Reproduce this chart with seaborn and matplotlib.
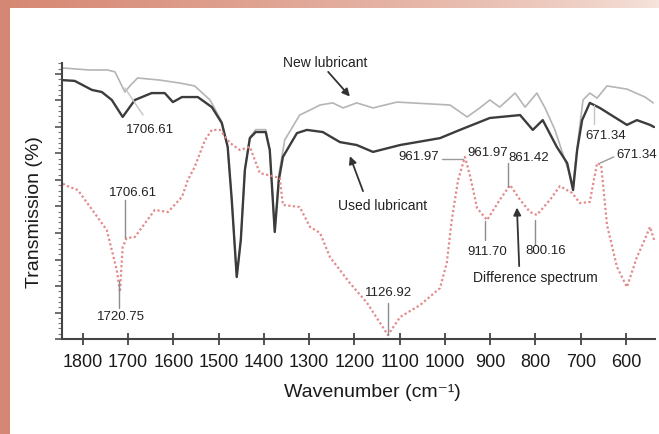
import numpy as np
import matplotlib
matplotlib.use("Agg")
import matplotlib.pyplot as plt
from matplotlib.ticker import MultipleLocator
from matplotlib.patches import Rectangle
import seaborn as sns

# ---- data (transmission in arbitrary %, 0 = axis bottom) ----
used_wn = [1846, 1818, 1780, 1758, 1736, 1712, 1685, 1648, 1619, 1601, 1581, 1546,
           1515, 1493, 1480, 1471, 1460, 1451, 1442, 1431, 1418, 1396, 1387, 1376,
           1367, 1358, 1327, 1305, 1270, 1232, 1195, 1159, 1099, 1011, 967, 901,
           834, 806, 784, 753, 730, 717, 708, 697, 680, 658, 598, 576, 547, 538]
used_t = [97.7, 97.4, 94.0, 93.2, 90.2, 83.8, 90.2, 92.8, 92.8, 89.4, 91.3, 91.3,
          87.5, 81.5, 72.5, 52.5, 23.4, 37.4, 63.8, 75.8, 78.1, 78.1, 71.3, 40.4,
          60.0, 68.7, 77.7, 78.9, 78.1, 74.3, 73.2, 70.6, 73.2, 75.8, 78.9, 83.4,
          84.5, 78.9, 82.6, 72.5, 66.4, 56.2, 71.3, 82.6, 89.1, 87.2, 80.8, 82.6, 80.8, 80.0]

new_wn = [1846, 1785, 1745, 1729, 1718, 1707, 1696, 1679, 1630, 1586, 1553, 1519,
          1493, 1480, 1471, 1460, 1451, 1442, 1431, 1418, 1396, 1387, 1376, 1367,
          1354, 1321, 1298, 1276, 1248, 1225, 1195, 1159, 1106, 989, 967, 951,
          923, 901, 879, 845, 823, 797, 779, 757, 735, 717, 706, 695, 680, 664,
          642, 598, 558, 540]
new_t = [102.3, 101.5, 101.5, 100.8, 97.0, 93.2, 95.5, 98.5, 97.7, 96.6, 95.5, 90.2,
         82.0, 72.5, 52.5, 23.4, 37.4, 63.8, 76.2, 79.0, 79.0, 71.3, 40.4, 62.0,
         75.1, 84.5, 86.4, 88.3, 89.1, 87.2, 89.1, 87.2, 89.4, 88.3, 85.7, 83.8,
         87.2, 90.2, 87.5, 92.8, 87.5, 92.8, 87.2, 78.9, 67.5, 58.1, 75.1, 90.2,
         92.8, 90.9, 95.5, 94.3, 91.3, 89.1]

diff_wn = [1846, 1840, 1811, 1774, 1747, 1725, 1718, 1712, 1703, 1685, 1641, 1612,
           1581, 1568, 1553, 1530, 1515, 1497, 1475, 1453, 1431, 1409, 1365, 1358,
           1321, 1298, 1276, 1254, 1210, 1172, 1126, 1099, 1055, 1011, 996, 985,
           971, 956, 945, 929, 907, 879, 856, 834, 812, 797, 768, 746, 719, 702,
           680, 664, 655, 642, 620, 598, 576, 562, 547, 538]
diff_t = [59.2, 58.1, 56.2, 47.5, 41.1, 26.0, 17.7, 34.7, 38.1, 38.5, 48.7, 47.9,
          53.6, 60.0, 64.9, 75.1, 78.9, 78.9, 74.0, 71.3, 72.5, 62.6, 60.8, 50.6,
          49.8, 42.3, 40.0, 30.9, 21.1, 13.6, 1.5, 8.3, 12.8, 19.2, 28.7, 44.9,
          60.0, 68.7, 61.9, 49.4, 44.9, 52.5, 58.1, 52.5, 47.9, 46.8, 52.5, 57.7,
          55.1, 51.3, 51.7, 66.4, 65.7, 43.0, 27.2, 19.6, 30.9, 36.2, 42.3, 37.4]

x_ticks = list(range(1800, 599, -100))

# peak labels: text, text x, text y, leader (x0, y0, x1, y1), leader colour
peak_labels = [
    ("1706.61", 1652, 78.9, (1707, 94.7, 1667, 84.5), "#c4c4c4"),
    ("1706.61", 1689, 55.1, (1706.6, 52.5, 1706.6, 38.1), "#8c8c8c"),
    ("1720.75", 1716, 8.3, (1720.75, 11.7, 1720.75, 21.9), "#8c8c8c"),
    ("1126.92", 1124, 17.4, (1126.92, 13.6, 1126.92, 1.5), "#8c8c8c"),
    ("961.97", 1057, 68.7, (1007, 67.9, 960, 67.9), "#9a9a9a"),
    ("961.97", 905, 70.2, None, None),
    ("861.42", 816, 68.3, (861.42, 66.4, 861.42, 57.4), "#8c8c8c"),
    ("911.70", 907, 32.8, (911.70, 44.5, 911.70, 37.4), "#8c8c8c"),
    ("800.16", 777, 33.2, (800.16, 44.9, 800.16, 35.5), "#8c8c8c"),
    ("671.34", 644, 76.6, (671.34, 88.3, 671.34, 81.1), "#c4c4c4"),
    ("671.34", 576, 69.4, (657, 66.4, 627, 68.7), "#9a9a9a"),
]

# series names with text position and arrow (tail -> head)
series_labels = [
    ("New lubricant", 1265, 104.2, (1258, 100.8), (1210, 91.5)),
    ("Used lubricant", 1137, 50.2, (1181, 55.8), (1210, 69.0)),
    ("Difference spectrum", 801, 23.0, (836, 27.5), (841, 49.6)),
]

sns.set_style("ticks")
plt.rcParams["font.family"] = ["Liberation Sans", "DejaVu Sans"]

fig = plt.figure(figsize=(6.59, 4.34), dpi=100)

# frame decoration: pink left band and a fading top band
bg = fig.add_axes([0, 0, 1, 1], zorder=-5)
bg.set_xlim(0, 659)
bg.set_ylim(434, 0)
bg.axis("off")
bg.add_patch(Rectangle((0, 0), 10, 434, color=(0.835, 0.53, 0.46), lw=0))
grad = np.linspace(0, 1, 256)
c0 = np.array([0.84, 0.53, 0.45])
c1 = np.array([0.965, 0.9, 0.87])
strip = (c0[None, :] * (1 - grad[:, None]) ** 0.7 + c1[None, :] * (1 - (1 - grad[:, None]) ** 0.7))
bg.imshow(strip[None, :, :], extent=(0, 659, 8, 0), aspect="auto")

ax = fig.add_axes([62 / 659, 1 - 339 / 434, 593 / 659, 275.6 / 434])
ax.set_facecolor("none")

sns.lineplot(x=new_wn, y=new_t, ax=ax, color="#b5b5b5", lw=1.2)
sns.lineplot(x=used_wn, y=used_t, ax=ax, color="#3c3c3c", lw=1.7)
sns.lineplot(x=diff_wn, y=diff_t, ax=ax, color="#e38a8a", lw=1.6,
             linestyle=(0, (1.0, 1.1)))

for text, tx, ty, lead, lc in peak_labels:
    ax.text(tx, ty, text, ha="center", va="center", fontsize=9.5, color="#222222")
    if lead is not None:
        ax.plot([lead[0], lead[2]], [lead[1], lead[3]], color=lc, lw=1.0)

for text, tx, ty, tail, head in series_labels:
    ax.text(tx, ty, text, ha="center", va="center", fontsize=10, color="#222222",
            clip_on=False)
    ax.annotate("", xy=head, xytext=tail,
                arrowprops=dict(arrowstyle="-|>", color="#333333", lw=1.3,
                                mutation_scale=11, shrinkA=0, shrinkB=0))

ax.set_xlim(1846, 536)
ax.set_ylim(0, 104)
ax.set_xticks(x_ticks)
ax.set_xticklabels([str(v) for v in x_ticks])
ax.yaxis.set_major_locator(MultipleLocator(10))
ax.yaxis.set_minor_locator(MultipleLocator(2))
ax.set_yticklabels([])
ax.tick_params(axis="x", direction="inout", length=8, width=1.3, color="#444444",
               labelsize=13, pad=7, labelcolor="#1a1a1a")
ax.tick_params(axis="y", which="major", direction="out", length=5, width=1.2,
               color="#555555")
ax.tick_params(axis="y", which="minor", direction="out", length=3, width=0.8,
               color="#777777")
sns.despine(ax=ax)
for side in ["left", "bottom"]:
    ax.spines[side].set_linewidth(1.5)
    ax.spines[side].set_color("#444444")

ax.set_xlabel("Wavenumber (cm⁻¹)", fontsize=14, color="#1a1a1a")
ax.xaxis.set_label_coords((372 - 62) / 593, -0.165)
ax.set_ylabel("Transmission (%)", fontsize=14, color="#1a1a1a")
ax.yaxis.set_label_coords((43 - 62) / 593, 0.46)

fig.savefig("out.png", dpi=100)
